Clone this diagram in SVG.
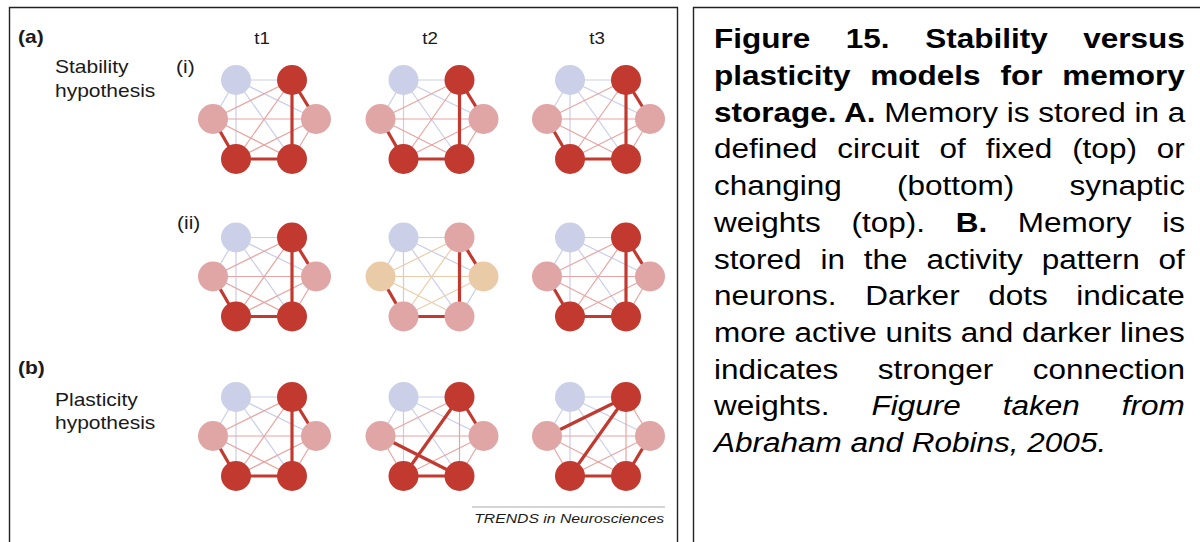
<svg xmlns="http://www.w3.org/2000/svg" xmlns:xlink="http://www.w3.org/1999/xlink" width="1200" height="542" viewBox="0 0 1200 542">
  <style>
    .frame { fill: none; stroke: #222; stroke-width: 1.4; }
    .lbl { font-family: "Liberation Sans", Arial, sans-serif; fill: #1a1a1a; }
    .b { font-weight: bold; }
    .it { font-style: italic; }
    .cap { font-family: "Liberation Sans", Arial, sans-serif; font-size: 27px; fill: #000; }
    .dk { fill: #c1392f; }
    .pk { fill: #dfa6a5; }
    .lv { fill: #cbcfe7; }
    .tn { fill: #e9cba8; }
    .el { stroke: #c9cde9; stroke-width: 1.2; }
    .ep { stroke: #e9a4a1; stroke-width: 1.2; }
    .et { stroke: #edcca7; stroke-width: 1.2; }
    .es { stroke: #c1392f; stroke-width: 3.2; }
  </style>
  <defs>
    <!-- weak links from the upper-left (inactive) unit, same in every network -->
    <g id="lavEdges">
      <line class="el" x1="-28" y1="0" x2="28" y2="0"/>
      <line class="el" x1="-28" y1="0" x2="-51" y2="39"/>
      <line class="el" x1="-28" y1="0" x2="52" y2="39"/>
      <line class="el" x1="-28" y1="0" x2="-28" y2="79"/>
      <line class="el" x1="-28" y1="0" x2="28" y2="79"/>
    </g>
    <!-- baseline circuit: thin links plus the strong B-D, B-F, C-E, E-F path -->
    <g id="stdEdges">
      <use xlink:href="#lavEdges"/>
      <line class="ep" x1="28" y1="0" x2="-51" y2="39"/>
      <line class="ep" x1="28" y1="0" x2="-28" y2="79"/>
      <line class="ep" x1="-51" y1="39" x2="52" y2="39"/>
      <line class="ep" x1="-51" y1="39" x2="28" y2="79"/>
      <line class="ep" x1="52" y1="39" x2="-28" y2="79"/>
      <line class="ep" x1="52" y1="39" x2="28" y2="79"/>
      <line class="es" x1="28" y1="0" x2="52" y2="39"/>
      <line class="es" x1="28" y1="0" x2="28" y2="79"/>
      <line class="es" x1="-51" y1="39" x2="-28" y2="79"/>
      <line class="es" x1="-28" y1="79" x2="28" y2="79"/>
    </g>
  </defs>

  <rect width="1200" height="542" fill="#fff"/>

  <!-- panel frames -->
  <path class="frame" d="M9.5,545 V7.5 H677.5 V545"/>
  <path class="frame" d="M693.5,545 V7.5 H1205"/>

  <!-- left panel labels -->
  <g id="labels">
    <text class="lbl b" font-size="18" transform="translate(18,43) scale(1.1667,1)">(a)</text>
    <text class="lbl" font-size="16" text-anchor="middle" transform="translate(262,44) scale(1.1667,1)">t1</text>
    <text class="lbl" font-size="16" text-anchor="middle" transform="translate(430,44) scale(1.1667,1)">t2</text>
    <text class="lbl" font-size="16" text-anchor="middle" transform="translate(597,44) scale(1.1667,1)">t3</text>
    <text class="lbl" font-size="18" transform="translate(55,73) scale(1.1667,1)">Stability</text>
    <text class="lbl" font-size="18" transform="translate(55,97) scale(1.1667,1)">hypothesis</text>
    <text class="lbl" font-size="18" transform="translate(176,73) scale(1.1667,1)">(i)</text>
    <text class="lbl" font-size="18" transform="translate(177,229) scale(1.1667,1)">(ii)</text>
    <text class="lbl b" font-size="18" transform="translate(18,374) scale(1.1667,1)">(b)</text>
    <text class="lbl" font-size="18" transform="translate(55,405.5) scale(1.1667,1)">Plasticity</text>
    <text class="lbl" font-size="18" transform="translate(55,429) scale(1.1667,1)">hypothesis</text>
    <line x1="472" y1="507" x2="665" y2="507" stroke="#aaa" stroke-width="1"/>
    <text class="lbl it" font-size="13.5" fill="#333" text-anchor="end" transform="translate(664,523) scale(1.1667,1)">TRENDS in Neurosciences</text>
  </g>

  <!-- connectors -->
  <g id="connectors">
    <use xlink:href="#stdEdges" transform="translate(264,80)"/>
    <use xlink:href="#stdEdges" transform="translate(431.5,80)"/>
    <use xlink:href="#stdEdges" transform="translate(598,80)"/>
    <use xlink:href="#stdEdges" transform="translate(264,237.5)"/>
    <g transform="translate(431.5,237.5)">
      <use xlink:href="#lavEdges"/>
      <line class="el" x1="52" y1="39" x2="28" y2="79"/>
      <line class="et" x1="28" y1="0" x2="-51" y2="39"/>
      <line class="et" x1="28" y1="0" x2="-28" y2="79"/>
      <line class="et" x1="-51" y1="39" x2="52" y2="39"/>
      <line class="et" x1="-51" y1="39" x2="28" y2="79"/>
      <line class="et" x1="52" y1="39" x2="-28" y2="79"/>
      <line class="es" x1="28" y1="0" x2="52" y2="39"/>
      <line class="es" x1="28" y1="0" x2="28" y2="79"/>
      <line class="es" x1="-51" y1="39" x2="-28" y2="79"/>
      <line class="es" x1="-28" y1="79" x2="28" y2="79"/>
    </g>
    <use xlink:href="#stdEdges" transform="translate(598,237.5)"/>
    <use xlink:href="#stdEdges" transform="translate(264,397)"/>
    <g transform="translate(431.5,397)">
      <use xlink:href="#lavEdges"/>
      <line class="ep" x1="28" y1="0" x2="-51" y2="39"/>
      <line class="ep" x1="28" y1="0" x2="28" y2="79"/>
      <line class="ep" x1="-51" y1="39" x2="52" y2="39"/>
      <line class="ep" x1="-51" y1="39" x2="-28" y2="79"/>
      <line class="ep" x1="52" y1="39" x2="-28" y2="79"/>
      <line class="ep" x1="52" y1="39" x2="28" y2="79"/>
      <line class="es" x1="28" y1="0" x2="52" y2="39"/>
      <line class="es" x1="28" y1="0" x2="-28" y2="79"/>
      <line class="es" x1="-51" y1="39" x2="28" y2="79"/>
      <line class="es" x1="-28" y1="79" x2="28" y2="79"/>
    </g>
    <g transform="translate(598,397)">
      <use xlink:href="#lavEdges"/>
      <line class="ep" x1="28" y1="0" x2="52" y2="39"/>
      <line class="ep" x1="28" y1="0" x2="28" y2="79"/>
      <line class="ep" x1="-51" y1="39" x2="52" y2="39"/>
      <line class="ep" x1="-51" y1="39" x2="-28" y2="79"/>
      <line class="ep" x1="-51" y1="39" x2="28" y2="79"/>
      <line class="ep" x1="52" y1="39" x2="-28" y2="79"/>
      <line class="es" x1="28" y1="0" x2="-51" y2="39"/>
      <line class="es" x1="28" y1="0" x2="-28" y2="79"/>
      <line class="es" x1="52" y1="39" x2="28" y2="79"/>
      <line class="es" x1="-28" y1="79" x2="28" y2="79"/>
    </g>
  </g>

  <!-- units: A upper-left, B upper-right, C left, D right, E lower-left, F lower-right -->
  <g id="units">
    <g id="i-t1" transform="translate(264,80)">
      <g id="i-t1-A"><circle class="lv" cx="-28" cy="0" r="15"/></g>
      <g id="i-t1-B"><circle class="dk" cx="28" cy="0" r="15"/></g>
      <g id="i-t1-C"><circle class="pk" cx="-51" cy="39" r="15"/></g>
      <g id="i-t1-D"><circle class="pk" cx="52" cy="39" r="15"/></g>
      <g id="i-t1-E"><circle class="dk" cx="-28" cy="79" r="15"/></g>
      <g id="i-t1-F"><circle class="dk" cx="28" cy="79" r="15"/></g>
    </g>
    <g id="i-t2" transform="translate(431.5,80)">
      <g id="i-t2-A"><circle class="lv" cx="-28" cy="0" r="15"/></g>
      <g id="i-t2-B"><circle class="dk" cx="28" cy="0" r="15"/></g>
      <g id="i-t2-C"><circle class="pk" cx="-51" cy="39" r="15"/></g>
      <g id="i-t2-D"><circle class="pk" cx="52" cy="39" r="15"/></g>
      <g id="i-t2-E"><circle class="dk" cx="-28" cy="79" r="15"/></g>
      <g id="i-t2-F"><circle class="dk" cx="28" cy="79" r="15"/></g>
    </g>
    <g id="i-t3" transform="translate(598,80)">
      <g id="i-t3-A"><circle class="lv" cx="-28" cy="0" r="15"/></g>
      <g id="i-t3-B"><circle class="dk" cx="28" cy="0" r="15"/></g>
      <g id="i-t3-C"><circle class="pk" cx="-51" cy="39" r="15"/></g>
      <g id="i-t3-D"><circle class="pk" cx="52" cy="39" r="15"/></g>
      <g id="i-t3-E"><circle class="dk" cx="-28" cy="79" r="15"/></g>
      <g id="i-t3-F"><circle class="dk" cx="28" cy="79" r="15"/></g>
    </g>
    <g id="ii-t1" transform="translate(264,237.5)">
      <g id="ii-t1-A"><circle class="lv" cx="-28" cy="0" r="15"/></g>
      <g id="ii-t1-B"><circle class="dk" cx="28" cy="0" r="15"/></g>
      <g id="ii-t1-C"><circle class="pk" cx="-51" cy="39" r="15"/></g>
      <g id="ii-t1-D"><circle class="pk" cx="52" cy="39" r="15"/></g>
      <g id="ii-t1-E"><circle class="dk" cx="-28" cy="79" r="15"/></g>
      <g id="ii-t1-F"><circle class="dk" cx="28" cy="79" r="15"/></g>
    </g>
    <g id="ii-t2" transform="translate(431.5,237.5)">
      <g id="ii-t2-A"><circle class="lv" cx="-28" cy="0" r="15"/></g>
      <g id="ii-t2-B"><circle class="pk" cx="28" cy="0" r="15"/></g>
      <g id="ii-t2-C"><circle class="tn" cx="-51" cy="39" r="15"/></g>
      <g id="ii-t2-D"><circle class="tn" cx="52" cy="39" r="15"/></g>
      <g id="ii-t2-E"><circle class="pk" cx="-28" cy="79" r="15"/></g>
      <g id="ii-t2-F"><circle class="pk" cx="28" cy="79" r="15"/></g>
    </g>
    <g id="ii-t3" transform="translate(598,237.5)">
      <g id="ii-t3-A"><circle class="lv" cx="-28" cy="0" r="15"/></g>
      <g id="ii-t3-B"><circle class="dk" cx="28" cy="0" r="15"/></g>
      <g id="ii-t3-C"><circle class="pk" cx="-51" cy="39" r="15"/></g>
      <g id="ii-t3-D"><circle class="pk" cx="52" cy="39" r="15"/></g>
      <g id="ii-t3-E"><circle class="dk" cx="-28" cy="79" r="15"/></g>
      <g id="ii-t3-F"><circle class="dk" cx="28" cy="79" r="15"/></g>
    </g>
    <g id="b-t1" transform="translate(264,397)">
      <g id="b-t1-A"><circle class="lv" cx="-28" cy="0" r="15"/></g>
      <g id="b-t1-B"><circle class="dk" cx="28" cy="0" r="15"/></g>
      <g id="b-t1-C"><circle class="pk" cx="-51" cy="39" r="15"/></g>
      <g id="b-t1-D"><circle class="pk" cx="52" cy="39" r="15"/></g>
      <g id="b-t1-E"><circle class="dk" cx="-28" cy="79" r="15"/></g>
      <g id="b-t1-F"><circle class="dk" cx="28" cy="79" r="15"/></g>
    </g>
    <g id="b-t2" transform="translate(431.5,397)">
      <g id="b-t2-A"><circle class="lv" cx="-28" cy="0" r="15"/></g>
      <g id="b-t2-B"><circle class="dk" cx="28" cy="0" r="15"/></g>
      <g id="b-t2-C"><circle class="pk" cx="-51" cy="39" r="15"/></g>
      <g id="b-t2-D"><circle class="pk" cx="52" cy="39" r="15"/></g>
      <g id="b-t2-E"><circle class="dk" cx="-28" cy="79" r="15"/></g>
      <g id="b-t2-F"><circle class="dk" cx="28" cy="79" r="15"/></g>
    </g>
    <g id="b-t3" transform="translate(598,397)">
      <g id="b-t3-A"><circle class="lv" cx="-28" cy="0" r="15"/></g>
      <g id="b-t3-B"><circle class="dk" cx="28" cy="0" r="15"/></g>
      <g id="b-t3-C"><circle class="pk" cx="-51" cy="39" r="15"/></g>
      <g id="b-t3-D"><circle class="pk" cx="52" cy="39" r="15"/></g>
      <g id="b-t3-E"><circle class="dk" cx="-28" cy="79" r="15"/></g>
      <g id="b-t3-F"><circle class="dk" cx="28" cy="79" r="15"/></g>
    </g>
  </g>

  <!-- caption, justified by per-line word spacing -->
  <g id="caption">
    <text class="cap b" style="word-spacing:23px" transform="translate(714,48.3) scale(1.1667,1)">Figure 15. Stability versus</text>
    <text class="cap b" style="word-spacing:9.5px" transform="translate(714,85) scale(1.1667,1)">plasticity models for memory</text>
    <text class="cap" transform="translate(714,121.7) scale(1.1667,1)"><tspan font-weight="bold">storage. A.</tspan> Memory is stored in a</text>
    <text class="cap" style="word-spacing:9.6px" transform="translate(714,158.4) scale(1.1667,1)">defined circuit of fixed (top) or</text>
    <text class="cap" style="word-spacing:39.8px" transform="translate(714,195.1) scale(1.1667,1)">changing (bottom) synaptic</text>
    <text class="cap" style="word-spacing:18.8px" transform="translate(714,231.8) scale(1.1667,1)">weights (top). <tspan font-weight="bold">B.</tspan> Memory is</text>
    <text class="cap" style="word-spacing:8.7px" transform="translate(714,268.5) scale(1.1667,1)">stored in the activity pattern of</text>
    <text class="cap" style="word-spacing:17px" transform="translate(714,305.2) scale(1.1667,1)">neurons. Darker dots indicate</text>
    <text class="cap" transform="translate(714,341.9) scale(1.1667,1)">more active units and darker lines</text>
    <text class="cap" style="word-spacing:26.3px" transform="translate(714,378.6) scale(1.1667,1)">indicates stronger connection</text>
    <text class="cap" style="word-spacing:28.5px" transform="translate(714,415.3) scale(1.1667,1)">weights. <tspan font-style="italic">Figure taken from</tspan></text>
    <text class="cap it" transform="translate(714,452) scale(1.1667,1)">Abraham and Robins, 2005.</text>
  </g>
</svg>
